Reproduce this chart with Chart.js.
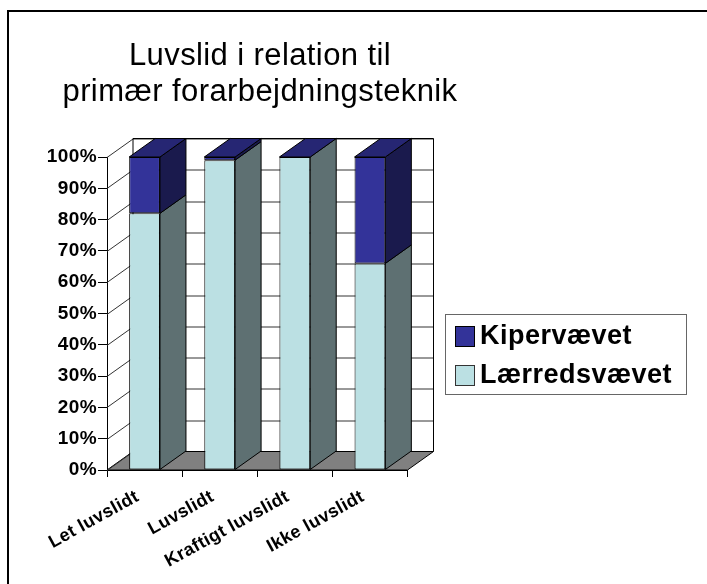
<!DOCTYPE html>
<html><head><meta charset="utf-8">
<style>html,body{margin:0;padding:0;background:#fff}canvas{display:block}</style>
<script src="https://cdn.jsdelivr.net/npm/chart.js@4/dist/chart.umd.min.js"></script>
</head><body><canvas id="c" width="707" height="584"></canvas>
<script>
const categories = ['Let luvslidt','Luvslidt','Kraftigt luvslidt','Ikke luvslidt'];
const laerredsvaevet = [82, 99, 100, 66];
const kipervaevet = [18, 1, 0, 34];
const yTicks = [0,10,20,30,40,50,60,70,80,90,100];
const titleLines = ['Luvslid i relation til','primær forarbejdningsteknik'];

const DX = 26, DY = -18.5;
const FONT = '"Liberation Sans", Arial, sans-serif';

function poly(ctx, pts, fill, stroke, lw){
  ctx.beginPath();
  pts.forEach((p,i)=> i?ctx.lineTo(p[0],p[1]):ctx.moveTo(p[0],p[1]));
  ctx.closePath();
  if(fill){ctx.fillStyle=fill;ctx.fill();}
  if(stroke){ctx.strokeStyle=stroke;ctx.lineWidth=lw||1;ctx.stroke();}
}

const box3d = {
  id:'box3d',
  beforeUpdate(chart){ chart.ctx.letterSpacing='0.4px'; },
  afterLayout(chart){
    const t = chart.titleBlock;
    t.left = 8; t.right = 512;
  },
  beforeDraw(chart){
    const ctx = chart.ctx;
    ctx.letterSpacing='0.4px';
    ctx.save();
    ctx.fillStyle='#fff';ctx.fillRect(0,0,chart.width,chart.height);
    ctx.strokeStyle='#000';ctx.lineWidth=2;
    ctx.beginPath();ctx.moveTo(8,chart.height);ctx.lineTo(8,11);ctx.lineTo(chart.width,11);ctx.stroke();
    ctx.restore();
  },
  beforeDatasetsDraw(chart){
    const ctx = chart.ctx, a = chart.chartArea, y = chart.scales.y;
    ctx.save();
    const L=a.left,R=a.right,T=a.top,B=a.bottom;
    // floor
    poly(ctx,[[L,B],[L+DX,B+DY],[R+DX,B+DY],[R,B]],'#808080','#000',1);
    // back wall + grid
    ctx.strokeStyle='#333';ctx.lineWidth=1;
    yTicks.forEach(v=>{
      const p=Math.round(y.getPixelForValue(v))+.5;
      ctx.beginPath();
      ctx.moveTo(L,p);ctx.lineTo(L+DX,p+DY);
      if(v>0) ctx.lineTo(R+DX,p+DY);
      ctx.stroke();
    });
    ctx.strokeStyle='#000';
    ctx.beginPath();
    ctx.moveTo(L+DX,B+DY);ctx.lineTo(L+DX,T+DY);ctx.lineTo(R+DX,T+DY);ctx.lineTo(R+DX,B+DY);
    ctx.stroke();
    // bar depth faces
    const sides=['#5E7072','#1A1A4D'];
    chart.data.datasets.forEach((ds,di)=>{
      chart.getDatasetMeta(di).data.forEach(el=>{
        const r=el.x+el.width/2, t=el.y, b=el.base;
        if(Math.abs(b-t)>0.01)
          poly(ctx,[[r,b],[r+DX,b+DY],[r+DX,t+DY],[r,t]],sides[di],'#000',1);
      });
    });
    const top=chart.data.datasets.length-1;
    chart.getDatasetMeta(top).data.forEach(el=>{
      const l=el.x-el.width/2,r=el.x+el.width/2,t=el.y;
      poly(ctx,[[l,t],[l+DX,t+DY],[r+DX,t+DY],[r,t]],'#262673','#000',1);
    });
    ctx.restore();
  },
  afterDraw(chart){
    const ctx=chart.ctx;
    ctx.save();
    ctx.fillStyle='#fff';ctx.strokeStyle='#666';ctx.lineWidth=1;
    ctx.fillRect(445.5,314.5,241,80);ctx.strokeRect(445.5,314.5,241,80);
    const items=[...chart.data.datasets].reverse();
    const ys=[337,376];
    items.forEach((ds,i)=>{
      ctx.fillStyle=ds.backgroundColor;ctx.strokeStyle=i?'#333':'#000';
      ctx.fillRect(455.5,ys[i]-10.5,19,20);ctx.strokeRect(455.5,ys[i]-10.5,19,20);
      ctx.fillStyle='#000';ctx.font='bold 27px '+FONT;ctx.textBaseline='middle';ctx.textAlign='left';
      ctx.letterSpacing='0.5px';
      ctx.fillText(ds.label,480,ys[i]);
    });
    ctx.restore();
  }
};

new Chart(document.getElementById('c'),{
  type:'bar',
  data:{labels:categories,datasets:[
    {label:'Lærredsvævet',data:laerredsvaevet,backgroundColor:'#BBE0E3',borderColor:'#000',borderWidth:1,borderSkipped:false},
    {label:'Kipervævet',data:kipervaevet,backgroundColor:'#333399',borderColor:'#000',borderWidth:1,borderSkipped:false}
  ]},
  options:{
    responsive:false,animation:false,
    layout:{padding:{left:0,right:299.5,top:0,bottom:0}},
    datasets:{bar:{categoryPercentage:1,barPercentage:0.41}},
    plugins:{
      legend:{display:false},tooltip:{enabled:false},
      title:{display:true,text:titleLines,color:'#000',
        font:{family:FONT,size:31,weight:'normal',lineHeight:'36.5px'},
        padding:{top:38,bottom:46}}
    },
    scales:{
      x:{stacked:true,
        afterFit(s){s.height=114;},
        grid:{offset:true,drawOnChartArea:false,drawTicks:true,tickLength:7,color:'#000'},
        border:{display:true,color:'#000'},
        ticks:{color:'#000',font:{family:FONT,size:18,weight:'bold'},minRotation:29,maxRotation:29,autoSkip:false,labelOffset:-7,padding:9}
      },
      y:{stacked:true,min:0,max:100,
        afterFit(s){s.width=107;},
        afterBuildTicks(s){s.ticks=yTicks.map(v=>({value:v}));},
        grid:{drawOnChartArea:false,drawTicks:true,tickLength:9,color:'#000'},
        border:{display:true,color:'#000'},
        ticks:{color:'#000',font:{family:FONT,size:19,weight:'bold'},padding:1,callback:v=>v+'%'}
      }
    }
  },
  plugins:[box3d]
});
</script></body></html>
